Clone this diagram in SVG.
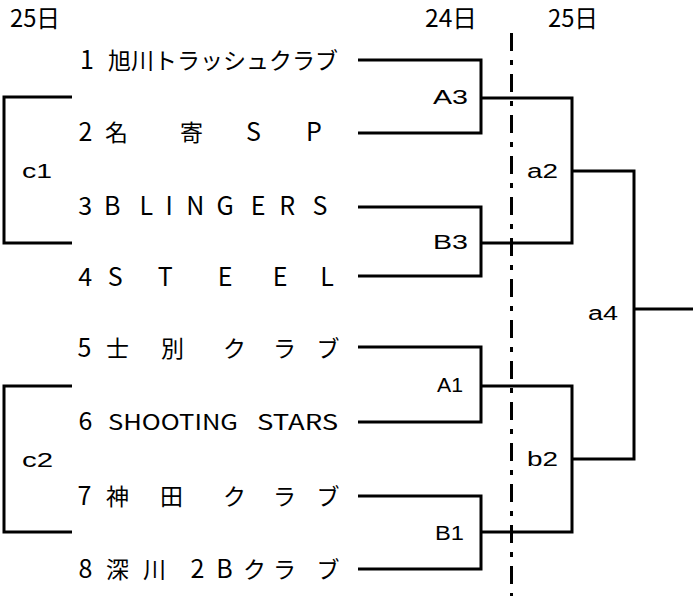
<svg xmlns="http://www.w3.org/2000/svg" width="693" height="596" viewBox="0 0 693 596">
<style>
.ln{fill:none;stroke:#000;stroke-width:3;stroke-linejoin:miter;stroke-linecap:butt}
.dash{fill:none;stroke:#000;stroke-width:3;stroke-dasharray:18 9 5 9}
.tm{font-family:"Noto Sans CJK JP","Noto Sans",sans-serif;font-size:23px;fill:#000}
.c{text-anchor:middle}
.L{font-size:25px}
.hd{font-family:"Noto Sans CJK JP","Noto Sans",sans-serif;font-size:24px;fill:#000}
.lb{font-family:"Liberation Sans","Noto Sans",sans-serif;font-size:20px;fill:#000}
</style>
<rect width="693" height="596" fill="#fff"/>
<g id="headers">
<text class="hd" x="10" y="27" textLength="50" lengthAdjust="spacingAndGlyphs">25日</text>
<text class="hd" x="425" y="27" textLength="52" lengthAdjust="spacingAndGlyphs">24日</text>
<text class="hd" x="548" y="27" textLength="50" lengthAdjust="spacingAndGlyphs">25日</text>
</g>
<g id="connectors">
<path class="ln" d="M358 60 H481 V133 H358"/>
<path class="ln" d="M358 207 H481 V276 H358"/>
<path class="ln" d="M358 347 H481 V422 H358"/>
<path class="ln" d="M358 496 H481 V569 H358"/>
<path class="ln" d="M481 98 H572 V243 H481"/>
<path class="ln" d="M481 386 H572 V532 H481"/>
<path class="ln" d="M572 171 H634 V459 H572"/>
<path class="ln" d="M634 309 H693"/>
<path class="ln" d="M72 97 H4 V243 H72"/>
<path class="ln" d="M72 386 H4 V532 H72"/>
<path class="dash" d="M511.5 33 V596"/>
</g>
<g id="team1"><text class="tm" y="69"><tspan class="c L" x="89.5">1</tspan> <tspan x="108">旭川トラッシュクラブ</tspan></text></g>
<g id="team2"><text class="tm c" y="141"><tspan class="L" x="88">2</tspan> <tspan x="119">名</tspan> <tspan x="194">寄</tspan> <tspan class="L" x="256">S</tspan> <tspan class="L" x="314">P</tspan></text></g>
<g id="team3"><text class="tm c L" y="215"><tspan x="88">3</tspan> <tspan x="115">B</tspan> <tspan x="149">L</tspan> <tspan x="172">I</tspan> <tspan x="198">N</tspan> <tspan x="228">G</tspan> <tspan x="261">E</tspan> <tspan x="290">R</tspan> <tspan x="320">S</tspan></text></g>
<g id="team4"><text class="tm c L" y="286"><tspan x="88">4</tspan> <tspan x="118">S</tspan> <tspan x="168">T</tspan> <tspan x="228">E</tspan> <tspan x="283">E</tspan> <tspan x="327">L</tspan></text></g>
<g id="team5"><text class="tm c" y="357"><tspan class="L" x="87">5</tspan> <tspan x="120">士</tspan> <tspan x="175">別</tspan> <tspan x="237">ク</tspan> <tspan x="287">ラ</tspan> <tspan x="328">ブ</tspan></text></g>
<g id="team6"><text class="tm" y="430"><tspan class="c L" x="88">6</tspan> <tspan x="108" font-size="21" textLength="130" lengthAdjust="spacingAndGlyphs">SHOOTING</tspan> <tspan x="257" font-size="21" textLength="81" lengthAdjust="spacingAndGlyphs">STARS</tspan></text></g>
<g id="team7"><text class="tm c" y="505"><tspan class="L" x="87">7</tspan> <tspan x="120">神</tspan> <tspan x="174">田</tspan> <tspan x="237">ク</tspan> <tspan x="287">ラ</tspan> <tspan x="328">ブ</tspan></text></g>
<g id="team8"><text class="tm c" y="578"><tspan class="L" x="88">8</tspan> <tspan x="120">深</tspan> <tspan x="157">川</tspan> <tspan class="L" x="200">2</tspan> <tspan class="L" x="227">B</tspan> <tspan x="257">ク</tspan> <tspan x="287">ラ</tspan> <tspan x="328">ブ</tspan></text></g>
<g id="labels">
<text class="lb" x="433" y="104" textLength="35" lengthAdjust="spacingAndGlyphs">A3</text>
<text class="lb" x="433" y="249" textLength="35" lengthAdjust="spacingAndGlyphs">B3</text>
<text class="lb" x="437" y="392" textLength="26" lengthAdjust="spacingAndGlyphs">A1</text>
<text class="lb" x="435" y="540" textLength="29" lengthAdjust="spacingAndGlyphs">B1</text>
<text class="lb" x="527" y="178" textLength="31" lengthAdjust="spacingAndGlyphs">a2</text>
<text class="lb" x="527" y="466" textLength="31" lengthAdjust="spacingAndGlyphs">b2</text>
<text class="lb" x="588" y="320" textLength="30" lengthAdjust="spacingAndGlyphs">a4</text>
<text class="lb" x="22" y="178" textLength="30" lengthAdjust="spacingAndGlyphs">c1</text>
<text class="lb" x="22" y="467" textLength="31" lengthAdjust="spacingAndGlyphs">c2</text>
</g>
</svg>
